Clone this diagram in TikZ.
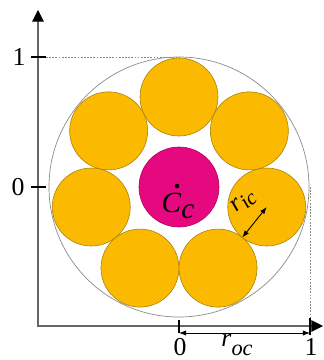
\documentclass[tikz,border=0pt]{standalone}
\usepackage{fontspec}
\setmainfont{Liberation Serif}
\usetikzlibrary{arrows.meta}

\definecolor{wireorange}{HTML}{FBB900}
\definecolor{wireedge}{HTML}{A8820A}
\definecolor{corepink}{HTML}{E6087F}
\definecolor{coreedge}{HTML}{A8065A}

\tikzset{
  axis/.style={black!60, line width=0.9pt},
  tick/.style={black, line width=1.1pt},
  guide/.style={black!45, line width=0.5pt, dash pattern=on 1.5pt off 1.2pt},
  wire/.style={fill=wireorange, draw=wireedge, line width=0.5pt},
  core/.style={fill=corepink, draw=coreedge, line width=0.5pt},
  lbl/.style={font=\fontsize{22}{24}\selectfont, inner sep=0pt},
  dim/.style={{Latex[length=6pt,width=4.5pt]}-{Latex[length=6pt,width=4.5pt]}, line width=0.8pt},
}

\begin{document}
\begin{tikzpicture}[x=0.03cm, y=0.03cm]
  \useasboundingbox (-179,-173) rectangle (144,187);
  % Axes with ticks
  \coordinate (O) at (-141,-139);
  \coordinate (ytop) at (-141,177);
  \coordinate (xend) at (144,-139);
  \draw[axis, {Triangle[length=10pt,width=10pt,color=black]}-{Triangle[length=10pt,width=10pt,color=black]}] (ytop) -- (O) -- (xend);
  \draw[tick] (-148,130) -- (-133,130);
  \draw[tick] (-148,0) -- (-133,0);
  \draw[tick] (0,-133) -- (0,-146);
  \draw[tick] (131,-131) -- (131,-148);
  \node[lbl] (yone) at (-160,130) {1};
  \node[lbl] (yzero) at (-161,0) {0};
  \node[lbl] (xzero) at (1,-160) {0};
  \node[lbl] (xone) at (132,-160) {1};
  % Guides to the outer radius
  \draw[guide] (-133,130) -- (0,130);
  \draw[guide] (131,0) -- (131,-131);
  % Outer circle, 7 wires, core
  \draw[black!45, line width=0.6pt] (0,0) circle (130);
  \foreach \k in {0,...,6}
    \draw[wire] ({90+\k*360/7}:90) circle (39);
  \draw[core] (0,0) circle (40);
  \fill (-2,1) circle (2.3);
  \node[font=\fontsize{25}{27}\selectfont\itshape, inner sep=0pt] (cc) at (-1,-19) {C\raisebox{-0.22em}{c}};
  % Radii
  \coordinate (ric0) at (-12.857:90);
  \coordinate (ric1) at (-38.571:81);
  \draw[dim] (ric0) -- (ric1);
  \node[font=\fontsize{21}{23}\selectfont\itshape, rotate=40, inner sep=0pt] (ric) at (65,-15) {r\raisebox{-0.18em}{\fontsize{18}{20}\selectfont ic}};
  \coordinate (roc0) at (0,-146);
  \coordinate (roc1) at (131,-146);
  \draw[dim] (roc0) -- (roc1);
  \node[font=\fontsize{22}{24}\selectfont\itshape, inner sep=0pt] (roc) at (58,-158) {r\raisebox{-0.32em}{\fontsize{19}{20}\selectfont oc}};
\end{tikzpicture}
\end{document}
